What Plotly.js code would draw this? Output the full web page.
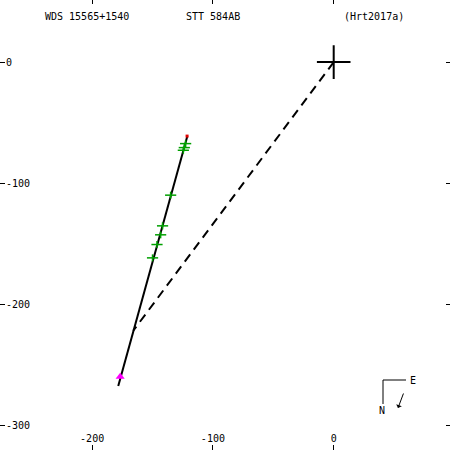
<!DOCTYPE html>
<html>
<head>
<meta charset="utf-8">
<script src="https://cdn.plot.ly/plotly-3.0.1.min.js"></script>
<style>html,body{margin:0;padding:0;background:#fff;}#chart{width:450px;height:450px;}</style>
</head>
<body>
<div id="chart"></div>
<script>
const orbitX = [-178.4, -121.2];
const orbitY = [-267.0, -61.2];
const nodeX = [0, -166.0];
const nodeY = [0, -221.5];
const obsX = [-122.6, -123.7, -124.5, -135.0, -141.7, -143.3, -146.3, -150.0];
const obsY = [-67.2, -70.5, -72.7, -109.7, -135.0, -142.4, -150.4, -161.4];
const specialX = [-176.8];
const specialY = [-259.5];
const endX = [-121.4];
const endY = [-61.0];
const primaryX = [0];
const primaryY = [0];
const xTickVals = [-200, -100, 0];
const xTickText = ["-200", "-100", "0"];
const yTickVals = [0, -100, -200, -300];
const yTickText = ["0", "-100", "-200", "-300"];
const titleLeft = "WDS 15565+1540";
const titleMid = "STT 584AB";
const titleRight = "(Hrt2017a)";

const font = {family: "DejaVu Sans Mono, monospace", size: 10, color: "#000"};
const xr = [-276.3, 96.3];
const yr = [-319.8, 51.2];

const traces = [
  {x: orbitX, y: orbitY, mode: "lines", line: {color: "#000", width: 2}, hoverinfo: "skip"},
  {x: nodeX, y: nodeY, mode: "lines", line: {color: "#000", width: 2, dash: "9px,6px"}, hoverinfo: "skip"},
  {x: obsX, y: obsY, mode: "markers", marker: {symbol: "line-ew", size: 8, line: {color: "#00a000", width: 1.5}}, hoverinfo: "skip"},
  {x: obsX, y: obsY, mode: "markers", marker: {symbol: "line-ns", size: 5, line: {color: "#00a000", width: 1.5}}, hoverinfo: "skip"},
  {x: specialX, y: specialY, mode: "markers", marker: {symbol: "triangle-up", size: 8, color: "#ff00ff"}, hoverinfo: "skip"},
  {x: endX, y: endY, mode: "markers", marker: {symbol: "square", size: 3, color: "#e00000"}, hoverinfo: "skip"},
  {x: primaryX, y: primaryY, mode: "markers", marker: {symbol: "cross-thin", size: 24, line: {color: "#000", width: 2}}, hoverinfo: "skip"},
  {x: [0], y: [0], xaxis: "x2", yaxis: "y2", mode: "markers", marker: {opacity: 0}, hoverinfo: "skip"}
];

const ann = (x, y, text) => ({xref: "paper", yref: "paper", x: x / 450, y: 1 - y / 450, text: text,
  showarrow: false, font: font, xanchor: "center", yanchor: "middle"});

const layout = {
  width: 450, height: 450,
  margin: {l: 0, r: 0, t: 0, b: 0},
  paper_bgcolor: "#fff", plot_bgcolor: "#fff",
  showlegend: false,
  font: font,
  xaxis: {range: xr, showgrid: false, zeroline: false, showline: true, linecolor: "#000", linewidth: 2,
          ticks: "inside", ticklen: 5, tickcolor: "#000", tickvals: xTickVals, ticktext: xTickText,
          ticklabelposition: "inside", tickfont: font, fixedrange: true},
  yaxis: {range: yr, showgrid: false, zeroline: false, showline: true, linecolor: "#000", linewidth: 2,
          ticks: "inside", ticklen: 5, tickcolor: "#000", tickvals: yTickVals, ticktext: yTickText,
          ticklabelposition: "inside", tickfont: font, fixedrange: true},
  xaxis2: {range: xr, overlaying: "x", side: "top", showgrid: false, zeroline: false, showline: false,
           ticks: "inside", ticklen: 4, tickcolor: "#000", tickvals: xTickVals, showticklabels: false},
  yaxis2: {range: yr, overlaying: "y", side: "right", showgrid: false, zeroline: false, showline: false,
           ticks: "inside", ticklen: 4, tickcolor: "#000", tickvals: yTickVals, showticklabels: false},
  shapes: [
    {type: "line", xref: "paper", yref: "paper", x0: 383/450, x1: 406/450, y0: 1-380/450, y1: 1-380/450, line: {color: "#000", width: 1}},
    {type: "line", xref: "paper", yref: "paper", x0: 383/450, x1: 383/450, y0: 1-380/450, y1: 1-404/450, line: {color: "#000", width: 1}}
  ],
  annotations: [
    ann(86.5, 16, titleLeft),
    ann(212.5, 16, titleMid),
    ann(374, 16, titleRight),
    ann(413, 380, "E"),
    ann(382, 410, "N"),
    {xref: "paper", yref: "paper", x: 398/450, y: 1-408/450, text: "", showarrow: true, ax: 6, ay: -16,
     arrowhead: 1, arrowsize: 1, arrowwidth: 1, arrowcolor: "#000", standoff: 0}
  ]
};

Plotly.newPlot("chart", traces, layout, {staticPlot: true, displayModeBar: false});
</script>
</body>
</html>
